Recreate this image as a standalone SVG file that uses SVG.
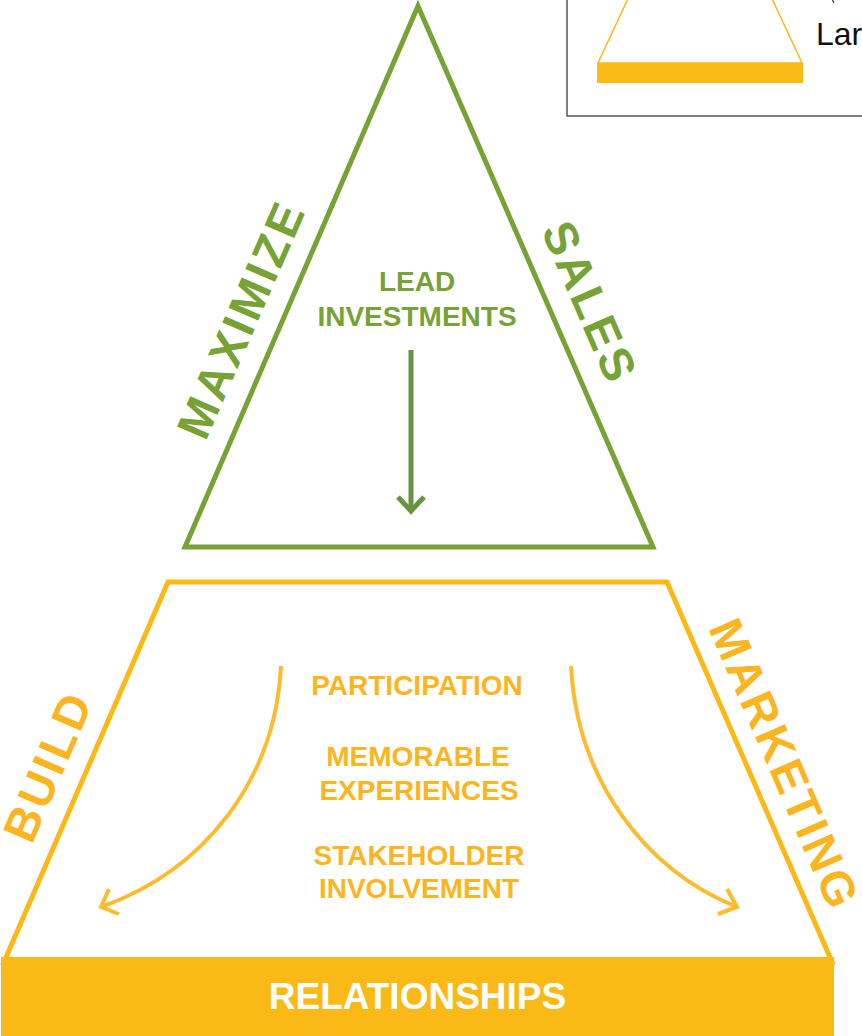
<svg xmlns="http://www.w3.org/2000/svg" width="862" height="1036" viewBox="0 0 862 1036">
<style>
.t{font-family:"Liberation Sans",Arial,sans-serif;font-weight:bold}
.g{fill:#76A236}
.o{fill:#FBB523}
.side{font-size:47px;letter-spacing:3px}
.mid{font-size:28px;text-anchor:middle}
</style>
<rect width="862" height="1036" fill="#ffffff"/>
<g id="legend">
<rect x="567" y="-4" width="300" height="120" fill="#ffffff" stroke="#555555" stroke-width="1.5"/>
<polyline points="632,-10 598,63 802,63 768,-10" fill="none" stroke="#FBB917" stroke-width="1.5"/>
<rect x="597" y="63" width="206" height="20" fill="#FBB917"/>
<path d="M832.5,0 L834,3" stroke="#333333" stroke-width="1.2" fill="none"/>
<text x="816" y="45" font-family="Liberation Sans, Arial, sans-serif" font-size="32" fill="#111111">Lar</text>
</g>
<g id="triangle">
<polygon points="418,6 653,547 185,547" fill="none" stroke="#76A236" stroke-width="5" stroke-linejoin="miter"/>
<text class="t g side" transform="translate(205.4,442.2) rotate(-66.5)">MAXIMIZE</text>
<text class="t g side" transform="translate(540.7,230.3) rotate(66.5)">SALES</text>
<text class="t g mid" x="417" y="291">LEAD</text>
<text class="t g mid" x="417" y="326">INVESTMENTS</text>
</g>
<g id="trapezoid">
<polygon points="168,582 667,582 832,962 4,962" fill="none" stroke="#FBB917" stroke-width="5"/>
<text class="t o side" transform="translate(31.7,845.5) rotate(-66.7)">BUILD</text>
<text class="t o side" transform="translate(708,627.8) rotate(66.7)">MARKETING</text>
<text class="t o mid" x="417" y="695">PARTICIPATION</text>
<text class="t o mid" x="418" y="766">MEMORABLE</text>
<text class="t o mid" x="419" y="800">EXPERIENCES</text>
<text class="t o mid" x="419" y="865">STAKEHOLDER</text>
<text class="t o mid" x="419" y="898">INVOLVEMENT</text>
</g>
<g id="base">
<rect x="1" y="957" width="833" height="82" fill="#FBB917"/>
<text x="417.5" y="1009" font-family="Liberation Sans, Arial, sans-serif" font-weight="bold" font-size="37" fill="#ffffff" text-anchor="middle">RELATIONSHIPS</text>
</g>
<g id="connectors" fill="none" stroke-linecap="butt">
<path d="M411,350 L411,511" stroke="#679441" stroke-width="5"/>
<path d="M398,497 L411,511 L424,497" stroke="#679441" stroke-width="5"/>
<path d="M281,666 C275,780 205,870 101,907" stroke="#FDBB2D" stroke-width="4"/>
<path d="M109,889 L101,907 L119,914" stroke="#FDBB2D" stroke-width="4"/>
<path d="M571,666 C577,780 645,870 737,907" stroke="#FDBB2D" stroke-width="4"/>
<path d="M727,889 L737,907 L718,914" stroke="#FDBB2D" stroke-width="4"/>
</g>
</svg>
